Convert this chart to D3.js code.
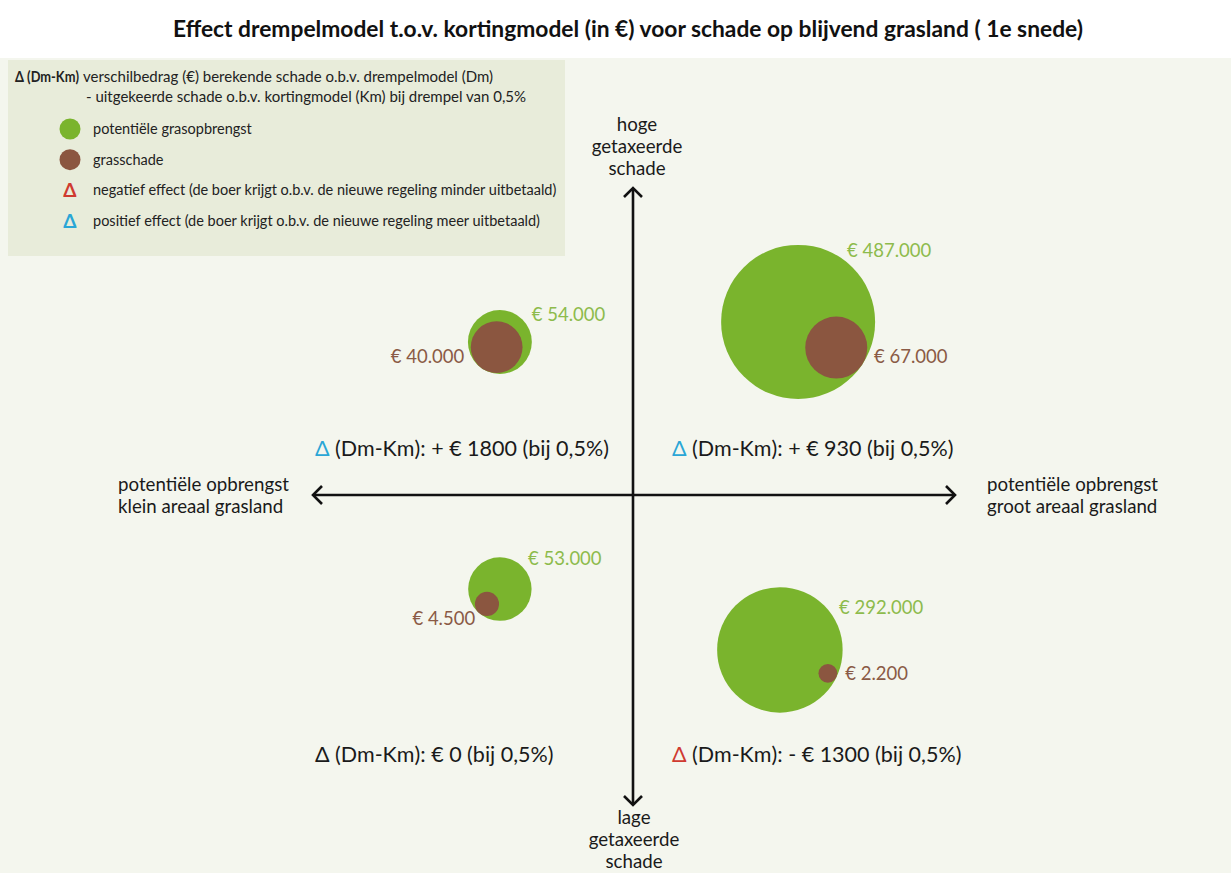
<!DOCTYPE html>
<html><head><meta charset="utf-8">
<script src="https://cdn.jsdelivr.net/npm/d3@7"></script>
<style>html,body{margin:0;padding:0;background:#fff}svg{display:block}text{font-family:Lato,"Open Sans",sans-serif}</style>
</head><body>
<svg id="chart" width="1231" height="873"></svg>
<script>
// ---- data ----
const quadrants   = ["hoog-klein", "hoog-groot", "laag-klein", "laag-groot"];
const potentieel  = [54000, 487000, 53000, 292000];   // potentiële grasopbrengst (€)
const grasschade  = [40000, 67000, 4500, 2200];       // grasschade (€)
const deltaDmKm   = [1800, 930, 0, -1300];            // Δ (Dm-Km) (€)
const areaalPos   = [-0.416, 0.516, -0.416, 0.459];   // position on areaal axis (-1 klein .. 1 groot)
const schadePos   = [0.478, 0.541, -0.294, -0.484];   // position on schade axis (-1 laag .. 1 hoog)

const titleText = "Effect drempelmodel t.o.v. kortingmodel (in €) voor schade op blijvend grasland ( 1e snede)";
const legendItems = [
  {type: "green", text: "potentiële grasopbrengst"},
  {type: "brown", text: "grasschade"},
  {type: "neg",   text: "negatief effect (de boer krijgt o.b.v. de nieuwe regeling minder uitbetaald)"},
  {type: "pos",   text: "positief effect (de boer krijgt o.b.v. de nieuwe regeling meer uitbetaald)"}
];

// ---- layout / style ----
const C = {green: "#7ab42d", brown: "#8b5640", greenTxt: "#8dbb4c", brownTxt: "#8a5a45",
           blue: "#2aa6d6", red: "#cf3a30", bg: "#f4f6ee", legendBg: "#e8ecda"};
const brownAngle = [122, 34, 131, 26];
const greenLabAngle = [-45, -58, -52, -38];
const brownLabAngle = [162, 15, 121, 3];

const svg = d3.select("#chart");
svg.append("rect").attr("x", 0).attr("y", 58).attr("width", 1231).attr("height", 815).attr("fill", C.bg);
svg.append("rect").attr("x", 8).attr("y", 60).attr("width", 557).attr("height", 196).attr("fill", C.legendBg);

svg.append("text").attr("x", 628).attr("y", 37).attr("text-anchor", "middle")
  .attr("font-size", 22).attr("font-weight", 700).attr("fill", "#111")
  .attr("textLength", 910).attr("lengthAdjust", "spacingAndGlyphs").text(titleText);

// legend
const LF = 14.5;
svg.append("text").attr("x", 15).attr("y", 82).attr("font-size", 14.5).attr("font-weight", 700).attr("fill", "#222")
  .attr("textLength", 64).attr("lengthAdjust", "spacingAndGlyphs").text("Δ (Dm-Km)");
svg.append("text").attr("x", 83).attr("y", 82).attr("font-size", 15).attr("fill", "#222").text("verschilbedrag (€) berekende schade o.b.v. drempelmodel (Dm)");
svg.append("text").attr("x", 86).attr("y", 102).attr("font-size", 15).attr("fill", "#222").text("- uitgekeerde schade o.b.v. kortingmodel (Km) bij drempel van 0,5%");
const ly = d3.scalePoint().domain(legendItems.map(d => d.type)).range([129, 221]);
const lg = svg.append("g").selectAll("g").data(legendItems).join("g").attr("transform", d => `translate(0,${ly(d.type)})`);
lg.filter(d => d.type === "green" || d.type === "brown").append("circle")
  .attr("cx", 70).attr("cy", 0).attr("r", 10.5).attr("fill", d => d.type === "green" ? C.green : C.brown);
lg.filter(d => d.type === "neg" || d.type === "pos").append("text")
  .attr("x", 70).attr("y", 7).attr("text-anchor", "middle").attr("font-size", 19).attr("font-weight", 700)
  .attr("fill", d => d.type === "neg" ? C.red : C.blue).text("Δ");
lg.append("text").attr("x", 93).attr("y", 5).attr("font-size", LF).attr("fill", "#222").text(d => d.text);

// scales
const x = d3.scaleLinear().domain([-1, 1]).range([313, 953]);
const y = d3.scaleLinear().domain([-1, 1]).range([815, 175]);
const rG = d3.scalePow().exponent(0.4).domain([0, d3.max(potentieel)]).range([0, 77]);
const rB = d3.scalePow().exponent(0.35).domain([0, d3.max(grasschade)]).range([0, 31]);

// axes (arrows)
const ax = svg.append("g").attr("stroke", "#111").attr("stroke-width", 2.6).attr("fill", "none");
const x0 = x(0), y0 = y(0);
const aTop = 188, aBot = 805, aLeft = 313, aRight = 955, h = 9;
ax.append("line").attr("x1", x0).attr("x2", x0).attr("y1", aTop).attr("y2", aBot);
ax.append("line").attr("x1", aLeft).attr("x2", aRight).attr("y1", y0).attr("y2", y0);
ax.append("path").attr("d", `M${x0-h},${aTop+h}L${x0},${aTop}L${x0+h},${aTop+h}`);
ax.append("path").attr("d", `M${x0-h},${aBot-h}L${x0},${aBot}L${x0+h},${aBot-h}`);
ax.append("path").attr("d", `M${aLeft+h},${y0-h}L${aLeft},${y0}L${aLeft+h},${y0+h}`);
ax.append("path").attr("d", `M${aRight-h},${y0-h}L${aRight},${y0}L${aRight-h},${y0+h}`);

function multi(xp, yp, lines, anchor, lh) {
  const t = svg.append("text").attr("x", xp).attr("y", yp).attr("text-anchor", anchor)
    .attr("font-size", 18.7).attr("fill", "#1a1a1a");
  lines.forEach((l, i) => t.append("tspan").attr("x", xp).attr("dy", i ? lh : 0).text(l));
}
multi(637, 131, ["hoge", "getaxeerde", "schade"], "middle", 22);
multi(634, 824, ["lage", "getaxeerde", "schade"], "middle", 22);
multi(118, 491, ["potentiële opbrengst", "klein areaal grasland"], "start", 21.5);
multi(987, 491, ["potentiële opbrengst", "groot areaal grasland"], "start", 21.5);

// bubbles
const loc = d3.formatLocale({decimal: ",", thousands: ".", grouping: [3], currency: ["€ ", ""]});
const fmt = loc.format(",.0f");
const rad = a => a * Math.PI / 180;
const data = quadrants.map((q, i) => {
  const gx = x(areaalPos[i]), gy = y(schadePos[i]), rg = rG(potentieel[i]), rb = rB(grasschade[i]);
  const bx = gx + (rg - rb) * Math.cos(rad(brownAngle[i])), by = gy + (rg - rb) * Math.sin(rad(brownAngle[i]));
  return {q, i, gx, gy, rg, rb, bx, by};
});
const g = svg.append("g");
g.selectAll("circle.g").data(data).join("circle").attr("class", "g")
  .attr("cx", d => d.gx).attr("cy", d => d.gy).attr("r", d => d.rg).attr("fill", C.green);
g.selectAll("circle.b").data(data).join("circle").attr("class", "b")
  .attr("cx", d => d.bx).attr("cy", d => d.by).attr("r", d => d.rb).attr("fill", C.brown);
g.selectAll("text.gl").data(data).join("text").attr("class", "gl")
  .attr("x", d => d.gx + (d.rg + 6) * Math.cos(rad(greenLabAngle[d.i])) + 5)
  .attr("y", d => d.gy + (d.rg + 6) * Math.sin(rad(greenLabAngle[d.i])) + 6)
  .attr("font-size", 18.5).attr("fill", C.greenTxt).text(d => "€ " + fmt(potentieel[d.i]));
g.selectAll("text.bl").data(data).join("text").attr("class", "bl")
  .attr("x", d => { const c = Math.cos(rad(brownLabAngle[d.i])); return d.bx + (d.rb + 5) * c + (c < 0 ? -3 : 3); })
  .attr("y", d => d.by + (d.rb + 5) * Math.sin(rad(brownLabAngle[d.i])) + 6)
  .attr("text-anchor", d => Math.cos(rad(brownLabAngle[d.i])) < 0 ? "end" : "start")
  .attr("font-size", 18.5).attr("fill", C.brownTxt).text(d => "€ " + fmt(grasschade[d.i]));

// delta labels
const dl = g.selectAll("text.dl").data(data).join("text").attr("class", "dl")
  .attr("x", d => areaalPos[d.i] < 0 ? x(-1) + 2 : x0 + 39)
  .attr("y", d => schadePos[d.i] > 0 ? y0 - 39 : y0 + 267)
  .attr("font-size", 21.5).attr("fill", "#1a1a1a");
dl.append("tspan").attr("fill", d => deltaDmKm[d.i] > 0 ? C.blue : deltaDmKm[d.i] < 0 ? C.red : "#1a1a1a").text("Δ");
dl.append("tspan").text(d => {
  const v = deltaDmKm[d.i];
  const s = v > 0 ? "+ " : v < 0 ? "- " : "";
  return ` (Dm-Km): ${s}€ ${Math.abs(v)} (bij 0,5%)`;
});
</script>
</body></html>
